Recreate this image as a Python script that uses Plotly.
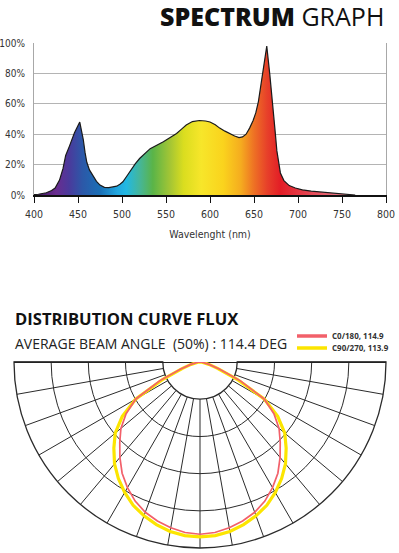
import plotly.graph_objects as go

# ---------------- Spectrum data ----------------
wavelength = [400, 405, 414, 420, 424, 429, 433, 436, 440.5, 446, 452, 454, 456, 458, 460,
              463, 467, 471, 475, 480, 485, 490, 494, 498, 501, 505, 509, 515, 520, 526,
              532, 547, 556, 562, 568, 573, 580, 588, 595, 600, 606, 611, 617, 623, 628,
              633, 637, 641, 645, 649, 652, 655, 659, 664.5, 668, 672, 674, 676, 678, 680,
              684, 690, 697, 705, 715, 725, 735, 745, 755, 765]
intensity = [0.3, 0.5, 1.5, 3, 4.6, 9.8, 17.5, 26, 32.5, 41, 48, 43, 36.5, 28, 21.5,
             16.5, 13, 9, 6.5, 5, 4.8, 5.2, 5.8, 7.2, 8.7, 12, 15.5, 20.5, 24, 27,
             30.5, 35, 38, 40.5, 43.5, 46, 48.3, 49, 48.7, 48, 46.2, 44, 42, 40.2, 38.8,
             37.8, 38.2, 40, 44, 49, 54, 61.5, 77, 98, 79, 57, 42, 29, 20.5, 14.5,
             9.5, 6.2, 4.6, 3.4, 2.5, 1.9, 1.3, 0.8, 0.3, 0]

x_ticks = [400, 450, 500, 550, 600, 650, 700, 750, 800]
y_ticks = [0, 20, 40, 60, 80, 100]
y_tick_text = ["0%", "20%", "40%", "60%", "80%", "100%"]

grad_wl = [400, 425, 440, 455, 475, 495, 505, 520, 535, 555, 570, 590, 615, 635, 650,
           665, 680, 710, 740, 770, 800]
grad_col = ["#3a1859", "#6a2c8f", "#4a3a9c", "#2c58a8", "#1a6fb6", "#22a8e0", "#22b8e2",
            "#45b69a", "#5ab448", "#a5c634", "#dadd1f", "#f7e62a", "#fad31d", "#f5ac1f",
            "#ee7124", "#e7402a", "#e31d26", "#e5424f", "#e86a78", "#ec98a1", "#f2b3ba"]

# ---------------- Distribution curve data ----------------
gamma = [0, 5, 10, 15, 20, 25, 30, 35, 40, 45, 50, 55, 60, 65, 70, 75, 80, 85, 90]
c0_180 = [92.6, 92, 90.5, 88.5, 86, 82.5, 78, 73, 67, 61, 55.5, 48.5, 40, 24, 11, 5, 2, 1, 0]
c90_270 = [94, 93.7, 92.5, 90.5, 88, 85, 81, 76.5, 71.5, 65.5, 59.5, 51, 40, 22, 10, 5, 2, 1, 0]
ring_values = [20, 40, 60, 80, 100]
labels = ["C0/180, 114.9", "C90/270, 113.9"]

cond = "DejaVu Sans Condensed, Liberation Sans Narrow, Roboto Condensed, Arial Narrow, sans-serif"

W, H = 399, 553


def px_x(v):
    return v / W


def px_y(v):
    return (H - v) / H


fig = go.Figure()

fig.add_trace(go.Scatter(
    x=wavelength, y=intensity, mode="lines",
    line=dict(color="#1a1a1a", width=1.2),
    fill="tozeroy",
    fillgradient=dict(type="horizontal",
                      colorscale=[[(w - 400) / 400, c] for w, c in zip(grad_wl, grad_col)],
                      start=400, stop=800),
    showlegend=False, hoverinfo="skip"))

# full curves through both half planes
theta_full = [-g for g in reversed(gamma)] + gamma[1:]
red_full = list(reversed(c0_180)) + c0_180[1:]
yel_full = list(reversed(c90_270)) + c90_270[1:]

# placeholder in grid polar
fig.add_trace(go.Scatterpolar(r=[ring_values[-1]], theta=[gamma[0]], mode="markers",
                              marker=dict(opacity=0), subplot="polar",
                              showlegend=False, hoverinfo="skip"))
# diameter line
fig.add_trace(go.Scatterpolar(r=[ring_values[-1], 0, ring_values[-1]],
                              theta=[-gamma[-1], gamma[0], gamma[-1]], mode="lines",
                              line=dict(color="#222222", width=2.2), subplot="polar2",
                              showlegend=False, hoverinfo="skip"))
fig.add_trace(go.Scatterpolar(r=yel_full, theta=theta_full, mode="lines",
                              line=dict(color="#fce500", width=3.2), subplot="polar2",
                              showlegend=False, hoverinfo="skip"))
fig.add_trace(go.Scatterpolar(r=red_full, theta=theta_full, mode="lines",
                              line=dict(color="#f2606a", width=1.7), subplot="polar2",
                              showlegend=False, hoverinfo="skip"))
# legend swatches
fig.add_trace(go.Scatterpolar(r=[None], theta=[None], mode="lines", name=labels[0],
                              line=dict(color="#f2606a", width=3.5), subplot="polar2",
                              legend="legend", showlegend=True))
fig.add_trace(go.Scatterpolar(r=[None], theta=[None], mode="lines", name=labels[1],
                              line=dict(color="#fce500", width=3.5), subplot="polar2",
                              legend="legend2", showlegend=True))

pol_dom = dict(x=[px_x(14), px_x(386)], y=[px_y(548), px_y(362)])
grid_col = "#2b2b2b"

legend_common = dict(xanchor="left", yanchor="middle", bgcolor="rgba(0,0,0,0)",
                     font=dict(size=8, family="Open Sans, sans-serif", color="#333333", weight=700),
                     itemwidth=30, borderwidth=0)

fig.update_layout(
    width=W, height=H,
    margin=dict(l=0, r=0, t=0, b=0),
    paper_bgcolor="white", plot_bgcolor="white",
    xaxis=dict(domain=[px_x(34), px_x(386)], range=[400, 800], tickvals=x_ticks,
               ticks="outside", ticklen=6, tickcolor="#111", tickwidth=1.2,
               showline=True, linecolor="#111", linewidth=1.6, showgrid=False,
               zeroline=False, automargin=False, ticklabelstandoff=3,
               tickfont=dict(family=cond, size=10.5, color="#333"),
               title=dict(text="Wavelenght (nm)", font=dict(family=cond, size=10.5, color="#333"),
                          standoff=11)),
    yaxis=dict(domain=[px_y(195), px_y(43)], range=[0, 100], tickvals=y_ticks,
               ticktext=y_tick_text, ticks="", showline=True, mirror=True,
               linecolor="#a8a8a8", linewidth=1, showgrid=True, gridcolor="#b4b4b4",
               gridwidth=1, zeroline=False, automargin=False, ticklabelstandoff=6,
               tickfont=dict(family=cond, size=10, color="#333")),
    polar=dict(domain=pol_dom, sector=[180, 360], hole=0.2, bgcolor="white",
               angularaxis=dict(rotation=-90, direction="counterclockwise",
                                tickmode="linear", tick0=0, dtick=10,
                                showticklabels=False, ticks="", showgrid=True,
                                gridcolor=grid_col, gridwidth=1,
                                showline=True, linecolor=grid_col, linewidth=1.3),
               radialaxis=dict(range=[19.9, 100], tickvals=ring_values, showticklabels=False,
                               ticks="", showline=False, showgrid=True,
                               gridcolor=grid_col, gridwidth=1)),
    polar2=dict(domain=pol_dom, sector=[180, 360], bgcolor="rgba(0,0,0,0)",
                angularaxis=dict(rotation=-90, direction="counterclockwise", visible=False),
                radialaxis=dict(range=[0, 100], visible=False)),
    legend=dict(x=px_x(292), y=px_y(336), **legend_common),
    legend2=dict(x=px_x(292), y=px_y(348), **legend_common),
    annotations=[
        dict(text="<span style='font-weight:800'>SPECTRUM</span> GRAPH", x=px_x(386),
             y=px_y(16), xref="paper", yref="paper",
             xanchor="right", yanchor="middle", showarrow=False,
             font=dict(family="Open Sans, sans-serif", size=25, color="#111")),
        dict(text="<b>DISTRIBUTION CURVE FLUX</b>", x=px_x(13), y=px_y(318), xref="paper",
             yref="paper", xanchor="left", yanchor="middle", showarrow=False,
             font=dict(family="Open Sans, sans-serif", size=16.6, color="#111")),
        dict(text="AVERAGE BEAM ANGLE  (50%) : 114.4 DEG", x=px_x(13), y=px_y(343),
             xref="paper", yref="paper", xanchor="left", yanchor="middle", showarrow=False,
             font=dict(family="Open Sans, sans-serif", size=14, color="#222")),
    ],
)

fig.write_html("out.html", config={"displayModeBar": False},
               post_script="document.body.style.margin='0px';")
